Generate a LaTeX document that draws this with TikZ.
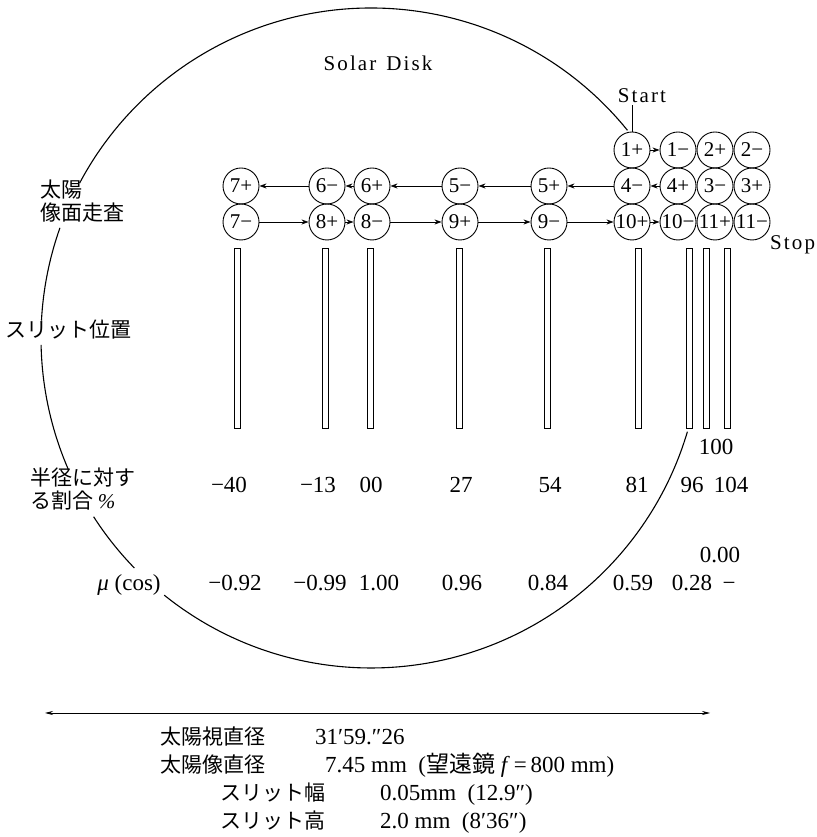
\documentclass[tikz,border=0pt]{standalone}
\usepackage{fontspec}
\setmainfont{Liberation Serif}
\newfontfamily\jp{Noto Sans CJK JP}
\usepackage{tikz}
\usetikzlibrary{arrows.meta}
\tikzstyle{scan} = [line width=0.8pt,-{Stealth[length=7pt,width=5pt]}]
\tikzstyle{spot} = [draw,circle,line width=0.9pt,minimum size=36pt,inner sep=0pt,font=\fontsize{21}{22}\selectfont]
\tikzstyle{slit} = [draw,line width=0.9pt]
\tikzstyle{lab} = [inner sep=0pt,font=\fontsize{23}{24}\selectfont]
\tikzstyle{jlab} = [inner sep=0pt,align=left,font=\jp\fontsize{21}{23}\selectfont]
\tikzstyle{wide} = [inner sep=2pt,font=\fontsize{21}{23}\selectfont\addfontfeature{LetterSpace=10}]

\begin{document}
\begin{tikzpicture}[x=1pt,y=1pt]
\useasboundingbox (0,0) rectangle (816,837);
\def\R{330pt}
\coordinate (sun) at (371,499);
% solar disk, broken where the labels stand
\draw[line width=1.1pt] (sun) ++(39:\R) arc[start angle=39,end angle=152,radius=\R];
\draw[line width=1.1pt] (sun) ++(160.5:\R) arc[start angle=160.5,end angle=177,radius=\R];
\draw[line width=1.1pt] (sun) ++(181.2:\R) arc[start angle=181.2,end angle=203.6,radius=\R];
\draw[line width=1.1pt] (sun) ++(212.8:\R) arc[start angle=212.8,end angle=224.2,radius=\R];
\draw[line width=1.1pt] (sun) ++(231.2:\R) arc[start angle=231.2,end angle=343.5,radius=\R];
\node[wide] (disk) at (378,774) {Solar\hspace{10pt}Disk};
\node[wide] (start) at (642,741) {Start};
\node[wide,anchor=west] (stop) at (768,592) {Stop};
% scan spots
\node[spot] (p1) at (632,687) {1+};
\node[spot] (m1) at (678,687) {1−};
\node[spot] (p2) at (715,687) {2+};
\node[spot] (m2) at (752,687) {2−};
\node[spot] (p7) at (241,651) {7+};
\node[spot] (m6) at (327,651) {6−};
\node[spot] (p6) at (372,651) {6+};
\node[spot] (m5) at (460,651) {5−};
\node[spot] (p5) at (549,651) {5+};
\node[spot] (m4) at (632,651) {4−};
\node[spot] (p4) at (678,651) {4+};
\node[spot] (m3) at (715,651) {3−};
\node[spot] (p3) at (752,651) {3+};
\node[spot] (m7) at (241,615) {7−};
\node[spot] (p8) at (327,615) {8+};
\node[spot] (m8) at (372,615) {8−};
\node[spot] (p9) at (460,615) {9+};
\node[spot] (m9) at (549,615) {9−};
\node[spot] (p10) at (632,615) {10+};
\node[spot] (m10) at (678,615) {10−};
\node[spot] (p11) at (715,615) {11+};
\node[spot] (m11) at (752,615) {11−};
\draw (p1.north) -- (p1.north |- start.south);
\draw[scan] (p1) -- (m1);
\draw[scan] (p4) -- (m4);
\draw[scan] (m4) -- (p5);
\draw[scan] (p5) -- (m5);
\draw[scan] (m5) -- (p6);
\draw[scan] (p6) -- (m6);
\draw[scan] (m6) -- (p7);
\draw[scan] (m7) -- (p8);
\draw[scan] (p8) -- (m8);
\draw[scan] (m8) -- (p9);
\draw[scan] (p9) -- (m9);
\draw[scan] (m9) -- (p10);
\draw[scan] (p10) -- (m10);
% slits
\foreach \x in {237,325,370,459,547,638,689,706,727}
  \draw[slit] (\x-3,409) rectangle (\x+3,589);
% left labels
\node[jlab,anchor=north west] (scanlab) at (40,657) {太陽\\像面走査};
\node[jlab,anchor=west] (slitlab) at (5,507) {スリット位置};
\node[jlab,anchor=north west] (ratiolab) at (30,369) {半径に対す\\る割合 {\rmfamily\itshape\%}};
\node[lab,anchor=base] (mulab) at (129,246.5) {\textit{μ} (cos)};
% ratio row
\node[lab,anchor=base] (r1) at (229,344.5) {−40};
\node[lab,anchor=base] (r2) at (318,344.5) {−13};
\node[lab,anchor=base] (r3) at (371,344.5) {00};
\node[lab,anchor=base] (r4) at (461,344.5) {27};
\node[lab,anchor=base] (r5) at (550,344.5) {54};
\node[lab,anchor=base] (r6) at (637,344.5) {81};
\node[lab,anchor=base] (r7) at (692,344.5) {96};
\node[lab,anchor=base] (r8) at (716,382.5) {100};
\node[lab,anchor=base] (r9) at (731,344.5) {104};
% mu row
\node[lab,anchor=base] (c1) at (235,246.5) {−0.92};
\node[lab,anchor=base] (c2) at (320,246.5) {−0.99};
\node[lab,anchor=base] (c3) at (379,246.5) {1.00};
\node[lab,anchor=base] (c4) at (462,246.5) {0.96};
\node[lab,anchor=base] (c5) at (548,246.5) {0.84};
\node[lab,anchor=base] (c6) at (633,246.5) {0.59};
\node[lab,anchor=base] (c7) at (692,246.5) {0.28};
\node[lab,anchor=base] (c8) at (720,274.5) {0.00};
\node[lab,anchor=base] (c9) at (729,246.5) {−};
% diameter and data
\coordinate (dl) at (45,124);
\coordinate (dr) at (710,124);
\draw[line width=0.7pt,{Stealth[length=8pt,width=4pt]}-{Stealth[length=8pt,width=4pt]}] (dl) -- (dr);
\node[jlab,anchor=base west] (d1) at (160,92) {太陽視直径};
\node[lab,anchor=base west] (v1) at (315,92) {31′59.″26};
\node[jlab,anchor=base west] (d2) at (160,64) {太陽像直径};
\node[lab,anchor=base west] (v2) at (325,64) {7.45 mm\ \ ({\jp 望遠鏡} \textit{f}\,=\,800 mm)};
\node[jlab,anchor=base west] (d3) at (220,36) {スリット幅};
\node[lab,anchor=base west] (v3) at (380,36) {0.05mm\ \ (12.9″)};
\node[jlab,anchor=base west] (d4) at (220,9) {スリット高};
\node[lab,anchor=base west] (v4) at (380,9) {2.0 mm\ \ (8′36″)};
\end{tikzpicture}
\end{document}
